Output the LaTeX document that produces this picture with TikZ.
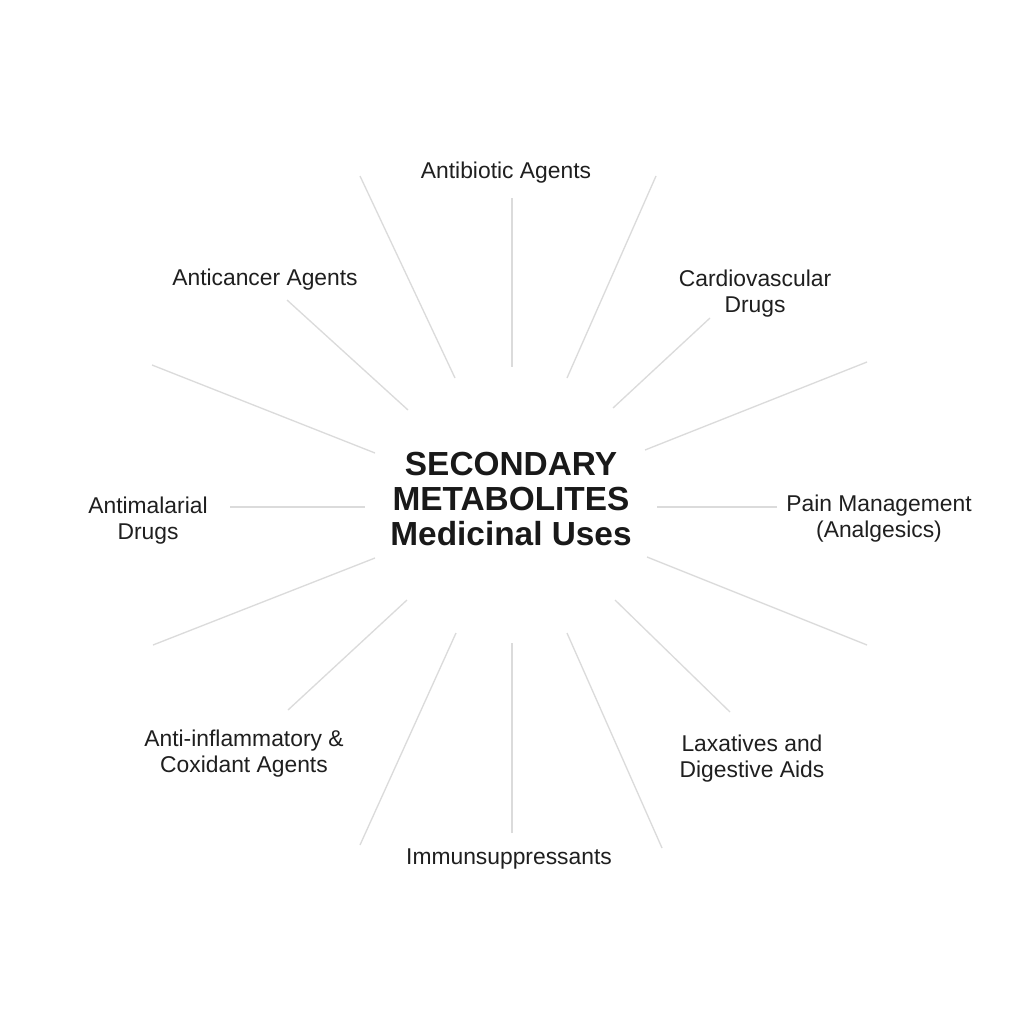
\documentclass[tikz,border=0pt]{standalone}
\usepackage{fontspec}
\setmainfont{Liberation Sans}
\usetikzlibrary{positioning}

\begin{document}
\begin{tikzpicture}[
            x=0.02cm, y=-0.02cm,
            % stili
            titlebox/.style={align=center, font=\fontsize{19}{19.8}\selectfont\bfseries, text=black!90, inner sep=0pt},
            usebox/.style={align=center, font=\fontsize{13}{14.8}\selectfont, text=black!88, inner sep=0pt},
            spoke/.style={draw=black!14, line width=0.75pt}
        ]

        \useasboundingbox[fill=white] (0,0) rectangle (1024,1024);

        % Nodo centrale
        \node (title) [titlebox] at (511,499) {SECONDARY\\METABOLITES\\Medicinal Uses};

        % Usi medicinali
        \node (antibiotic) [usebox] at (506,173) {Antibiotic Agents};
        \node (anticancer) [usebox] at (265,280) {Anticancer Agents};
        \node (cardio) [usebox] at (755,294) {Cardiovascular\\Drugs};
        \node (pain) [usebox] at (879,519) {Pain Management\\(Analgesics)};
        \node (laxative) [usebox] at (752,759) {Laxatives and\\Digestive Aids};
        \node (immuno) [usebox] at (509,859) {Immunsuppressants};
        \node (inflam) [usebox] at (244,754) {Anti-inflammatory \&\\Coxidant Agents};
        \node (malaria) [usebox] at (148,521) {Antimalarial\\Drugs};

        % Estremi dei raggi
        \foreach \name/\xa/\ya/\xb/\yb in {
            n/512/198/512/367,
            nnw/360/176/455/378,
            nne/656/176/567/378,
            nw/287/300/408/410,
            ne/710/318/613/408,
            wnw/152/365/375/453,
            ene/867/362/645/450,
            w/230/507/365/507,
            e/777/507/657/507,
            wsw/153/645/375/558,
            ese/867/645/647/557,
            sw/288/710/407/600,
            se/730/712/615/600,
            ssw/360/845/456/633,
            sse/662/848/567/633,
            s/512/833/512/643} {
            \coordinate (\name-out) at (\xa,\ya);
            \coordinate (\name-in) at (\xb,\yb);
            \draw [spoke] (\name-out) -- (\name-in);
        }

    \end{tikzpicture}
\end{document}
